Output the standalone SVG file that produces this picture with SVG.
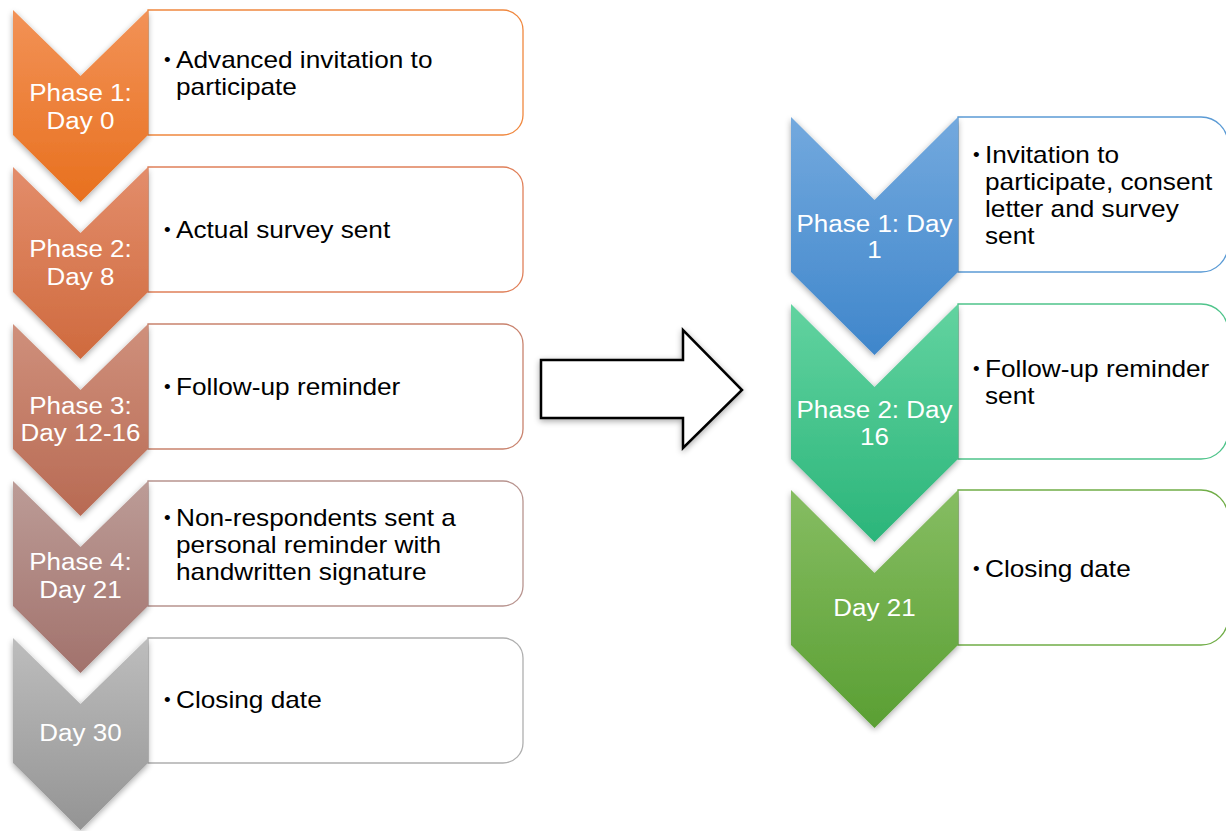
<svg xmlns="http://www.w3.org/2000/svg" width="1226" height="831" viewBox="0 0 1226 831">
<defs>
<linearGradient id="g1" x1="0" y1="0" x2="0" y2="1"><stop offset="0" stop-color="#F29257"/><stop offset="1" stop-color="#E8701E"/></linearGradient>
<linearGradient id="g2" x1="0" y1="0" x2="0" y2="1"><stop offset="0" stop-color="#E38D6B"/><stop offset="1" stop-color="#CF6A3E"/></linearGradient>
<linearGradient id="g3" x1="0" y1="0" x2="0" y2="1"><stop offset="0" stop-color="#CF907C"/><stop offset="1" stop-color="#B86A53"/></linearGradient>
<linearGradient id="g4" x1="0" y1="0" x2="0" y2="1"><stop offset="0" stop-color="#BC9C97"/><stop offset="1" stop-color="#A2726C"/></linearGradient>
<linearGradient id="g5" x1="0" y1="0" x2="0" y2="1"><stop offset="0" stop-color="#BDBDBD"/><stop offset="1" stop-color="#949494"/></linearGradient>
<linearGradient id="b1" x1="0" y1="0" x2="0" y2="1"><stop offset="0" stop-color="#73A9DE"/><stop offset="1" stop-color="#3F86CB"/></linearGradient>
<linearGradient id="b2" x1="0" y1="0" x2="0" y2="1"><stop offset="0" stop-color="#62D3A0"/><stop offset="1" stop-color="#2BB57A"/></linearGradient>
<linearGradient id="b3" x1="0" y1="0" x2="0" y2="1"><stop offset="0" stop-color="#86BD62"/><stop offset="1" stop-color="#5A9F33"/></linearGradient>
<filter id="sh" x="-20%" y="-20%" width="140%" height="140%"><feGaussianBlur in="SourceAlpha" stdDeviation="3"/><feOffset dx="0" dy="2"/><feComponentTransfer><feFuncA type="linear" slope="0.35"/></feComponentTransfer><feMerge><feMergeNode/><feMergeNode in="SourceGraphic"/></feMerge></filter>
</defs>
<style>
.box{fill:#fff;stroke-width:1.3}
.cl{font-family:"Liberation Sans",Arial,sans-serif;font-size:23px;fill:#fff;text-anchor:middle}
.bt{font-family:"Liberation Sans",Arial,sans-serif;font-size:23px;fill:#000}
.bu{font-family:"Liberation Sans",Arial,sans-serif;font-size:19px;fill:#000}
</style>
<rect width="1226" height="831" fill="#fff"/>

<g id="left-1">
<path class="box" stroke="#F0883F" d="M148,10 H503 A20,20 0 0 1 523,30 V115 A20,20 0 0 1 503,135 H148 Z"/>
<path fill="url(#g1)" filter="url(#sh)" d="M13,10 L80.5,76 L148,10 L148,135 L80.5,202 L13,135 Z"/>
<text class="cl" transform="matrix(1.13 0 0 1 80.5 101)">Phase 1:</text>
<text class="cl" transform="matrix(1.13 0 0 1 80.5 129)">Day 0</text>
<text class="bu" x="164" y="66">•</text>
<text class="bt" transform="matrix(1.14 0 0 1 176 68)">Advanced invitation to</text>
<text class="bt" transform="matrix(1.14 0 0 1 176 95)">participate</text>
</g>

<g id="left-2">
<path class="box" stroke="#E0805A" d="M148,167 H503 A20,20 0 0 1 523,187 V272 A20,20 0 0 1 503,292 H148 Z"/>
<path fill="url(#g2)" filter="url(#sh)" d="M13,167 L80.5,233 L148,167 L148,292 L80.5,359 L13,292 Z"/>
<text class="cl" transform="matrix(1.13 0 0 1 80.5 257)">Phase 2:</text>
<text class="cl" transform="matrix(1.13 0 0 1 80.5 285)">Day 8</text>
<text class="bu" x="164" y="236">•</text>
<text class="bt" transform="matrix(1.14 0 0 1 176 238)">Actual survey sent</text>
</g>

<g id="left-3">
<path class="box" stroke="#C9836E" d="M148,324 H503 A20,20 0 0 1 523,344 V429 A20,20 0 0 1 503,449 H148 Z"/>
<path fill="url(#g3)" filter="url(#sh)" d="M13,324 L80.5,390 L148,324 L148,449 L80.5,516 L13,449 Z"/>
<text class="cl" transform="matrix(1.13 0 0 1 80.5 414)">Phase 3:</text>
<text class="cl" transform="matrix(1.13 0 0 1 80.5 441)">Day 12-16</text>
<text class="bu" x="164" y="393">•</text>
<text class="bt" transform="matrix(1.14 0 0 1 176 395)">Follow-up reminder</text>
</g>

<g id="left-4">
<path class="box" stroke="#B8948F" d="M148,481 H503 A20,20 0 0 1 523,501 V586 A20,20 0 0 1 503,606 H148 Z"/>
<path fill="url(#g4)" filter="url(#sh)" d="M13,481 L80.5,547 L148,481 L148,606 L80.5,673 L13,606 Z"/>
<text class="cl" transform="matrix(1.13 0 0 1 80.5 570)">Phase 4:</text>
<text class="cl" transform="matrix(1.13 0 0 1 80.5 598)">Day 21</text>
<text class="bu" x="164" y="524">•</text>
<text class="bt" transform="matrix(1.14 0 0 1 176 526)">Non-respondents sent a</text>
<text class="bt" transform="matrix(1.14 0 0 1 176 553)">personal reminder with</text>
<text class="bt" transform="matrix(1.14 0 0 1 176 580)">handwritten signature</text>
</g>

<g id="left-5">
<path class="box" stroke="#AFAFAF" d="M148,638 H503 A20,20 0 0 1 523,658 V743 A20,20 0 0 1 503,763 H148 Z"/>
<path fill="url(#g5)" filter="url(#sh)" d="M13,638 L80.5,704 L148,638 L148,763 L80.5,830 L13,763 Z"/>
<text class="cl" transform="matrix(1.13 0 0 1 80.5 741)">Day 30</text>
<text class="bu" x="164" y="706">•</text>
<text class="bt" transform="matrix(1.14 0 0 1 176 708)">Closing date</text>
</g>

<g id="connectors">
<path filter="url(#sh)" fill="#fff" stroke="#000" stroke-width="2.5" stroke-linejoin="miter" d="M541,360 H683 V330 L742,390 L683,448 V418 H541 Z"/>
</g>

<g id="right-1">
<path class="box" stroke="#5B9BD5" d="M958,117 H1201 A27,27 0 0 1 1228,144 V245 A27,27 0 0 1 1201,272 H958 Z"/>
<path fill="url(#b1)" filter="url(#sh)" d="M791,117 L874.5,200 L958,117 L958,272 L874.5,355 L791,272 Z"/>
<text class="cl" transform="matrix(1.13 0 0 1 874.5 232)">Phase 1: Day</text>
<text class="cl" transform="matrix(1.13 0 0 1 874.5 258)">1</text>
<text class="bu" x="973" y="161">•</text>
<text class="bt" transform="matrix(1.14 0 0 1 985 163)">Invitation to</text>
<text class="bt" transform="matrix(1.14 0 0 1 985 190)">participate, consent</text>
<text class="bt" transform="matrix(1.14 0 0 1 985 217)">letter and survey</text>
<text class="bt" transform="matrix(1.14 0 0 1 985 244)">sent</text>
</g>

<g id="right-2">
<path class="box" stroke="#4FC48B" d="M958,304 H1201 A27,27 0 0 1 1228,331 V432 A27,27 0 0 1 1201,459 H958 Z"/>
<path fill="url(#b2)" filter="url(#sh)" d="M791,304 L874.5,387 L958,304 L958,459 L874.5,542 L791,459 Z"/>
<text class="cl" transform="matrix(1.13 0 0 1 874.5 418)">Phase 2: Day</text>
<text class="cl" transform="matrix(1.13 0 0 1 874.5 445)">16</text>
<text class="bu" x="973" y="375">•</text>
<text class="bt" transform="matrix(1.14 0 0 1 985 377)">Follow-up reminder</text>
<text class="bt" transform="matrix(1.14 0 0 1 985 404)">sent</text>
</g>

<g id="right-3">
<path class="box" stroke="#70AD47" d="M958,490 H1201 A27,27 0 0 1 1228,517 V618 A27,27 0 0 1 1201,645 H958 Z"/>
<path fill="url(#b3)" filter="url(#sh)" d="M791,490 L874.5,573 L958,490 L958,645 L874.5,728 L791,645 Z"/>
<text class="cl" transform="matrix(1.13 0 0 1 874.5 616)">Day 21</text>
<text class="bu" x="973" y="575">•</text>
<text class="bt" transform="matrix(1.14 0 0 1 985 577)">Closing date</text>
</g>
</svg>
